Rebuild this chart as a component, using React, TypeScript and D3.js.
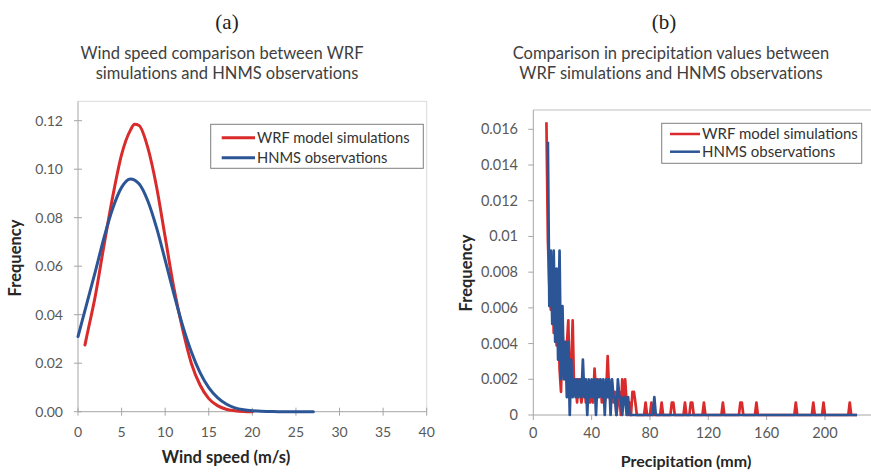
import React from 'react';
import * as d3 from 'd3';

// ---------- Panel (a): wind speed ----------
const windSpeedWrf = [0.8, 1, 2, 3, 4, 5, 6, 6.5, 7, 8, 9, 10, 11, 12, 13, 14, 15, 16, 17, 18, 19, 20];
const freqWindWrf = [0.0275, 0.031, 0.048, 0.069, 0.089, 0.106, 0.116, 0.1185, 0.118, 0.109, 0.093, 0.072, 0.051, 0.034, 0.020, 0.011, 0.0054, 0.0025, 0.0010, 0.0004, 0.0001, 0];
const windSpeedHnms = [0, 1, 2, 3, 4, 5, 6, 7, 8, 9, 10, 11, 12, 13, 14, 15, 16, 17, 18, 19, 20, 21, 22, 23, 24, 25, 26, 27];
const freqWindHnms = [0.031, 0.0445, 0.058, 0.072, 0.084, 0.0925, 0.096, 0.094, 0.087, 0.076, 0.0625, 0.0486, 0.0356, 0.0247, 0.0161, 0.0099, 0.0058, 0.0032, 0.0016, 0.0008, 0.0004, 0.0002, 0.0001, 0, 0, 0, 0, 0];
const windTicksX = [0, 5, 10, 15, 20, 25, 30, 35, 40];
const windTicksY = [0, 0.02, 0.04, 0.06, 0.08, 0.1, 0.12];
const windTickLabelsY = ['0.00', '0.02', '0.04', '0.06', '0.08', '0.10', '0.12'];

// ---------- Panel (b): precipitation ----------
const precipTicksX = [0, 40, 80, 120, 160, 200];
const precipTicksY = [0, 0.002, 0.004, 0.006, 0.008, 0.01, 0.012, 0.014, 0.016];
const precipTickLabelsY = ['0', '0.002', '0.004', '0.006', '0.008', '0.01', '0.012', '0.014', '0.016'];
const precipEndMm = 222;

// WRF: frequencies per mm starting at 9 mm
const wrfPrecipStartMm = 9;
const wrfPrecipDense = [
  0.0164, 0.0098, 0.0072, 0.0059, 0.0085, 0.0046, 0.0072, 0.0039, 0.0059, 0.0026,
  0.0013, 0.0046, 0.0033, 0.0020, 0.0039, 0.0053, 0.0013, 0.0026, 0.0053, 0.0013,
  0.0020, 0.0007, 0.0020, 0.0013, 0.0007, 0.0013, 0.0020, 0.0007, 0.0013, 0.0013,
  0.0007, 0.0013, 0.0007, 0.0026, 0.0013, 0.0020, 0.0013, 0.0020, 0.0007, 0.0013,
  0.0007, 0.0013, 0.0033, 0.0013, 0.0007, 0.0013, 0.0007, 0.0013, 0, 0.0007,
  0.0013, 0, 0.0020, 0.0007, 0.0020, 0.0007, 0, 0.0007, 0, 0.0013,
  0.0013, 0.0007, 0, 0, 0, 0, 0, 0, 0.0007,
];
const wrfPrecipTailMm = [81, 88, 95, 96, 104, 108, 109, 117, 130, 142, 143, 153, 180, 192, 199, 217];
const wrfPrecipTailFreq = [0.0007, 0.0007, 0.0007, 0.0007, 0.0007, 0.0007, 0.0007, 0.0007, 0.0007, 0.0007, 0.0007, 0.0007, 0.0007, 0.0007, 0.0007, 0.0007];

// HNMS: frequencies per mm starting at 10 mm
const hnmsPrecipStartMm = 10;
const hnmsPrecipDense = [
  0.0153, 0.0061, 0.0092, 0.0051, 0.0092, 0.0041, 0.0082, 0.0031, 0.0092, 0.0020,
  0.0061, 0.0020, 0.0041, 0.0010, 0.0041, 0, 0.0031, 0.0010, 0.0020, 0.0010,
  0.0020, 0.0010, 0.0020, 0.0010, 0.0031, 0.0010, 0.0020, 0, 0.0020, 0.0010,
  0.0020, 0.0010, 0.0020, 0, 0.0020, 0.0010, 0.0020, 0.0010, 0.0020, 0,
  0.0020, 0.0010, 0.0020, 0, 0.0020, 0.0010, 0.0010, 0, 0.0020, 0.0010,
  0.0010, 0, 0.0010, 0.0010, 0, 0.0010, 0,
];
const hnmsPrecipTailMm = [83];
const hnmsPrecipTailFreq = [0.0010];

const RED = '#D92B2B';
const BLUE = '#2C5596';
const AXIS = '#A6A6A6';
const TICK_TXT = '#595959';
const FONT = 'Lato, Carlito, "Open Sans", sans-serif';
const SERIF = '"Liberation Serif", "Times New Roman", serif';
const noLig = { fontVariantLigatures: 'none' as const };

function buildSeries(start: number, dense: number[], tailMm: number[], tailFreq: number[]) {
  const pts: [number, number][] = [];
  for (let mm = start; mm <= precipEndMm; mm++) {
    let v = 0;
    const i = mm - start;
    if (i < dense.length) v = dense[i];
    else {
      const k = tailMm.indexOf(mm);
      if (k >= 0) v = tailFreq[k];
    }
    pts.push([mm, v]);
  }
  return pts;
}

export default function App() {
  // Panel (a) scales
  const xA = d3.scaleLinear().domain([0, 40]).range([78, 426.7]);
  const yA = d3.scaleLinear().domain([0, 0.12]).range([411.7, 120.7]);
  const topA = yA(0.128);
  const lineA = d3
    .line<[number, number]>()
    .x((d) => xA(d[0]))
    .y((d) => yA(d[1]))
    .curve(d3.curveMonotoneX);
  const wrfWind = windSpeedWrf.map((s, i) => [s, freqWindWrf[i]] as [number, number]);
  const hnmsWind = windSpeedHnms.map((s, i) => [s, freqWindHnms[i]] as [number, number]);

  // Panel (b) scales
  const xB = d3.scaleLinear().domain([0, 240]).range([533.3, 883.3]);
  const yB = d3.scaleLinear().domain([0, 0.016]).range([415, 129.3]);
  const topB = 110;
  const lineB = d3
    .line<[number, number]>()
    .x((d) => xB(d[0]))
    .y((d) => yB(d[1]));
  const wrfPrecip = buildSeries(wrfPrecipStartMm, wrfPrecipDense, wrfPrecipTailMm, wrfPrecipTailFreq);
  const hnmsPrecip = buildSeries(hnmsPrecipStartMm, hnmsPrecipDense, hnmsPrecipTailMm, hnmsPrecipTailFreq);

  return (
    <svg width={871} height={473} style={{ position: 'absolute', left: 0, top: 0, background: '#fff' }}>
      <rect x={0} y={0} width={871} height={473} fill="#fff" />
      {/* ===== Panel (a) ===== */}
      <text x={227} y={29} textAnchor="middle" fontFamily={SERIF} fontSize={21} fill="#222">(a)</text>
      <text x={222} y={59} textAnchor="middle" fontFamily={FONT} fontSize={16.5} fill="#404040" style={noLig}>Wind speed comparison between WRF</text>
      <text x={227} y={78.5} textAnchor="middle" fontFamily={FONT} fontSize={16.5} fill="#404040" style={noLig}>simulations and HNMS observations</text>

      {/* frame */}
      <line x1={xA(0)} x2={xA(40)} y1={topA} y2={topA} stroke="#D9D9D9" />
      <line x1={xA(40)} x2={xA(40)} y1={topA} y2={yA(0)} stroke="#D9D9D9" />
      <line x1={xA(0)} x2={xA(0)} y1={topA} y2={yA(0)} stroke={AXIS} />
      <line x1={xA(0)} x2={xA(40)} y1={yA(0)} y2={yA(0)} stroke={AXIS} />
      {windTicksY.map((v, i) => (
        <g key={'ya' + i}>
          <line x1={xA(0) - 4} x2={xA(0) + 4} y1={yA(v)} y2={yA(v)} stroke={AXIS} />
          <text x={63} y={yA(v) + 5} textAnchor="end" fontFamily={FONT} fontSize={14} fill={TICK_TXT}>{windTickLabelsY[i]}</text>
        </g>
      ))}
      {windTicksX.map((v, i) => (
        <g key={'xa' + i}>
          <line x1={xA(v)} x2={xA(v)} y1={yA(0) - 4} y2={yA(0) + 4} stroke={AXIS} />
          <text x={xA(v)} y={436.5} textAnchor="middle" fontFamily={FONT} fontSize={14} fill={TICK_TXT}>{v}</text>
        </g>
      ))}
      <text x={226} y={463} textAnchor="middle" fontFamily={FONT} fontWeight="bold" fontSize={16.5} fill="#262626">Wind speed (m/s)</text>
      <text transform={`translate(21,258) rotate(-90)`} textAnchor="middle" fontFamily={FONT} fontWeight="bold" fontSize={16.5} fill="#262626">Frequency</text>

      <path d={lineA(wrfWind) || ''} fill="none" stroke={RED} strokeWidth={3} strokeLinecap="round" />
      <path d={lineA(hnmsWind) || ''} fill="none" stroke={BLUE} strokeWidth={3} strokeLinecap="round" />

      {/* legend (a) */}
      <rect x={210.7} y={124.3} width={212.6} height={44} fill="#fff" stroke="#7F7F7F" />
      <line x1={221.7} x2={255} y1={137.7} y2={137.7} stroke={RED} strokeWidth={3} />
      <text x={257} y={142.7} fontFamily={FONT} fontSize={14.7} fill="#333">WRF model simulations</text>
      <line x1={221.7} x2={255} y1={157.7} y2={157.7} stroke={BLUE} strokeWidth={3} />
      <text x={257} y={162.7} fontFamily={FONT} fontSize={14.7} fill="#333">HNMS observations</text>

      {/* ===== Panel (b) ===== */}
      <text x={664} y={29} textAnchor="middle" fontFamily={SERIF} fontSize={21} fill="#222">(b)</text>
      <text x={671} y={59} textAnchor="middle" fontFamily={FONT} fontSize={16.5} fill="#404040" style={noLig}>Comparison in precipitation values between</text>
      <text x={671} y={78.5} textAnchor="middle" fontFamily={FONT} fontSize={16.5} fill="#404040" style={noLig}>WRF simulations and HNMS observations</text>

      <line x1={xB(0)} x2={871} y1={topB} y2={topB} stroke="#BFBFBF" />
      <line x1={xB(0)} x2={xB(0)} y1={topB} y2={yB(0)} stroke={AXIS} />
      <line x1={xB(0)} x2={871} y1={yB(0)} y2={yB(0)} stroke={AXIS} />
      {precipTicksY.map((v, i) => (
        <g key={'yb' + i}>
          <line x1={xB(0) - 5} x2={xB(0)} y1={yB(v)} y2={yB(v)} stroke={AXIS} />
          <text x={518} y={yB(v) + 5} textAnchor="end" fontFamily={FONT} fontSize={14.5} fill={TICK_TXT}>{precipTickLabelsY[i]}</text>
        </g>
      ))}
      {precipTicksX.map((v, i) => (
        <g key={'xb' + i}>
          <line x1={xB(v)} x2={xB(v)} y1={yB(0)} y2={yB(0) + 5} stroke={AXIS} />
          <text x={xB(v)} y={437.5} textAnchor="middle" fontFamily={FONT} fontSize={14.5} fill={TICK_TXT}>{v}</text>
        </g>
      ))}
      <text x={686} y={467} textAnchor="middle" fontFamily={FONT} fontWeight="bold" fontSize={16} fill="#262626">Precipitation (mm)</text>
      <text transform={`translate(472,273) rotate(-90)`} textAnchor="middle" fontFamily={FONT} fontWeight="bold" fontSize={16.5} fill="#262626">Frequency</text>

      <path d={lineB(wrfPrecip) || ''} fill="none" stroke={RED} strokeWidth={2.7} strokeLinejoin="round" />
      <path d={lineB(hnmsPrecip) || ''} fill="none" stroke={BLUE} strokeWidth={2.7} strokeLinejoin="round" />

      {/* legend (b) */}
      <rect x={661.7} y={123.3} width={200} height={40} fill="#fff" stroke="#7F7F7F" />
      <line x1={670} x2={700} y1={134} y2={134} stroke={RED} strokeWidth={2.5} />
      <text x={702} y={139} fontFamily={FONT} fontSize={15} fill="#333">WRF model simulations</text>
      <line x1={670} x2={700} y1={151.7} y2={151.7} stroke={BLUE} strokeWidth={2.5} />
      <text x={702} y={156.7} fontFamily={FONT} fontSize={15} fill="#333">HNMS observations</text>
    </svg>
  );
}
